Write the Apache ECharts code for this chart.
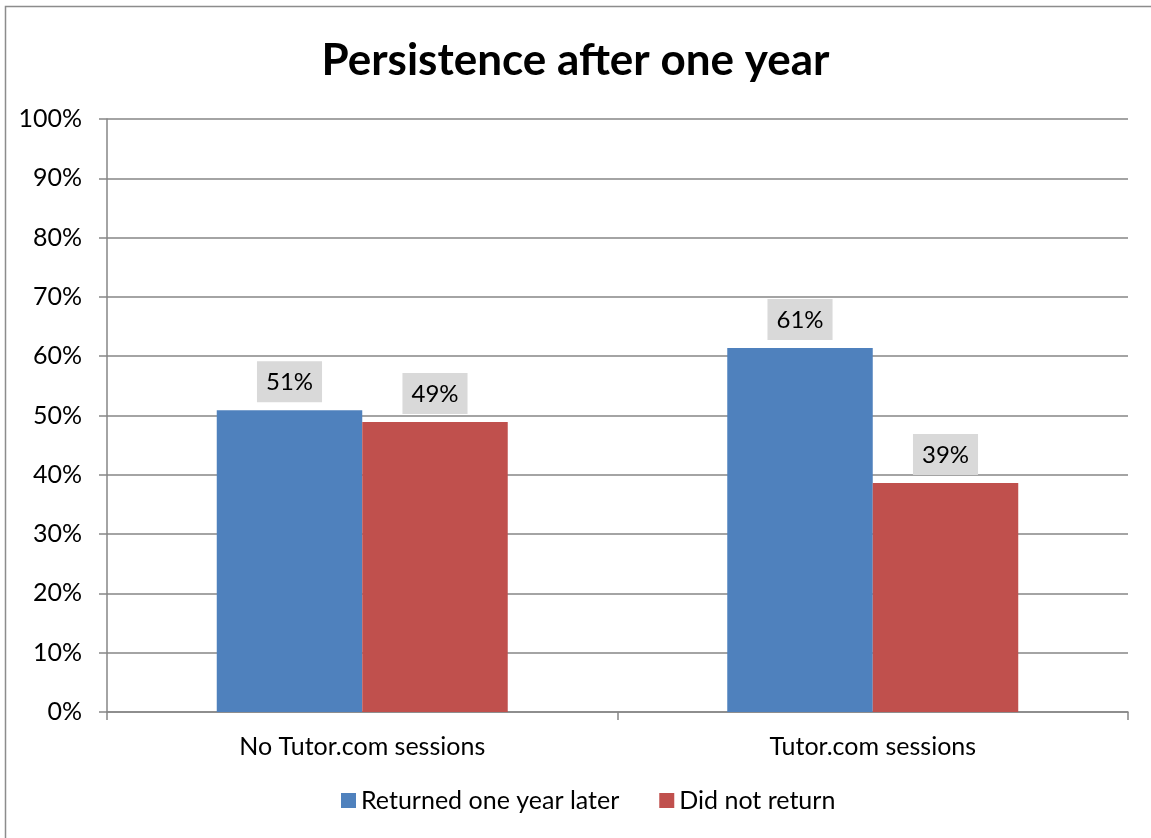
<!DOCTYPE html>
<html><head><meta charset="utf-8">
<script src="https://cdn.jsdelivr.net/npm/echarts@6/dist/echarts.min.js"></script>
<style>html,body{margin:0;padding:0;background:#fff}#c{width:1151px;height:838px}</style>
</head><body><div id="c"></div>
<script>
const categories = ["No Tutor.com sessions", "Tutor.com sessions"];
const returned = [0.509, 0.614];
const notReturned = [0.489, 0.386];
const seriesNames = ["Returned one year later", "Did not return"];
const FONT = "Lato, 'Open Sans', sans-serif";
const chart = echarts.init(document.getElementById('c'));
const label = {
  show: true, position: 'top', distance: 8,
  formatter: p => Math.round(p.value * 100) + '%',
  backgroundColor: '#d9d9d9', padding: [9, 9, 8, 9], lineHeight: 24,
  color: '#000', fontSize: 24, fontFamily: FONT
};
chart.setOption({
  animation: false,
  title: { text: 'Persistence after one year', left: 'center', top: 34,
    textStyle: { fontSize: 44, fontWeight: 'bold', color: '#000', fontFamily: FONT } },
  graphic: [{ type: 'rect', shape: { x: 5.5, y: 6.5, width: 1160, height: 860 },
    style: { fill: 'none', stroke: '#8c8c8c', lineWidth: 1.5 }, silent: true }],
  grid: { left: 107, right: 23, top: 119, bottom: 126 },
  legend: { bottom: 20, left: 336, itemWidth: 15, itemHeight: 15, itemGap: 40,
    icon: 'rect', textStyle: { fontSize: 25, color: '#000', fontFamily: FONT },
    data: seriesNames },
  xAxis: { type: 'category', data: categories,
    axisLine: { lineStyle: { color: '#868686', width: 1.5 } },
    axisTick: { show: true, length: 8, lineStyle: { color: '#868686', width: 1.5 } },
    axisLabel: { fontSize: 25, color: '#000', fontFamily: FONT, margin: 22 } },
  yAxis: { type: 'value', min: 0, max: 1, interval: 0.1,
    axisLine: { show: true, lineStyle: { color: '#868686', width: 1.5 } },
    axisTick: { show: true, length: 8, lineStyle: { color: '#868686', width: 1.5 } },
    splitLine: { lineStyle: { color: '#868686', width: 1.5 } },
    axisLabel: { fontSize: 25, color: '#000', fontFamily: FONT, margin: 25,
      formatter: v => Math.round(v * 100) + '%' } },
  series: [
    { name: seriesNames[0], type: 'bar', data: returned, barGap: '0%', barCategoryGap: '43%',
      itemStyle: { color: '#4f81bd' }, label: label },
    { name: seriesNames[1], type: 'bar', data: notReturned, barGap: '0%', barCategoryGap: '43%',
      itemStyle: { color: '#c0504d' }, label: label }
  ]
});
</script></body></html>
